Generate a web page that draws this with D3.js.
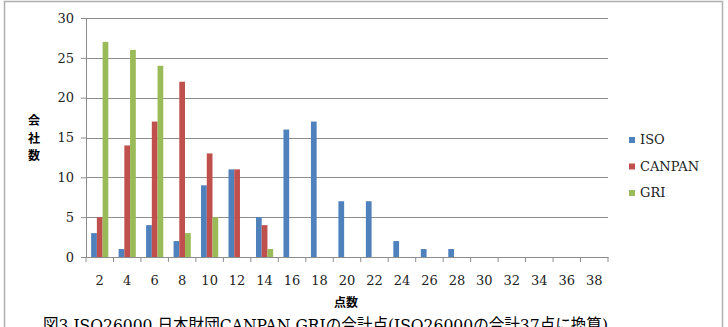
<!DOCTYPE html>
<html>
<head>
<meta charset="utf-8">
<script src="https://cdn.jsdelivr.net/npm/d3@7"></script>
<style>
  body { margin: 0; background: #fff; }
  svg { display: block; }
</style>
</head>
<body>
<script>
// chart data
var categories = ["2","4","6","8","10","12","14","16","18","20","22","24","26","28","30","32","34","36","38"];
var seriesNames = ["ISO", "CANPAN", "GRI"];
var isoValues    = [3, 1, 4, 2, 9, 11, 5, 16, 17, 7, 7, 2, 1, 1, 0, 0, 0, 0, 0];
var canpanValues = [5, 14, 17, 22, 13, 11, 4, 0, 0, 0, 0, 0, 0, 0, 0, 0, 0, 0, 0];
var griValues    = [27, 26, 24, 3, 5, 0, 1, 0, 0, 0, 0, 0, 0, 0, 0, 0, 0, 0, 0];
var yTicks = [0, 5, 10, 15, 20, 25, 30];
var colors = ["#4F81BD", "#C0504D", "#9BBB59"];

var serif = "'DejaVu Serif', 'Liberation Serif', serif";
var jp = "'Noto Sans CJK JP', sans-serif";

var width = 728, height = 327;
var margin = {top: 18, right: 120, bottom: 70, left: 86};

var svg = d3.select("body").append("svg")
    .attr("width", width)
    .attr("height", height);

// outer frame of the chart
svg.append("rect")
    .attr("x", 4.5).attr("y", 1.5)
    .attr("width", 718).attr("height", 340)
    .attr("fill", "none")
    .attr("stroke", "#b0b0b0")
    .attr("stroke-width", 1.5);

var plotW = 608 - margin.left, plotH = 257 - margin.top;

var g = svg.append("g")
    .attr("transform", "translate(" + margin.left + "," + margin.top + ")");

var x = d3.scaleBand().domain(categories).range([0, plotW]).paddingInner(0).paddingOuter(0);
var xSub = d3.scaleBand().domain(seriesNames).range([x.bandwidth() / 2 - 8.6, x.bandwidth() / 2 + 8.6]);
var y = d3.scaleLinear().domain([0, 30]).range([plotH, 0]);

// gridlines
g.selectAll(".grid")
    .data(yTicks.filter(function(d) { return d > 0; }))
    .enter().append("line")
    .attr("x1", 0).attr("x2", plotW)
    .attr("y1", function(d) { return Math.round(y(d)) + 0.5; })
    .attr("y2", function(d) { return Math.round(y(d)) + 0.5; })
    .attr("stroke", "#8c8c8c")
    .attr("stroke-width", 1);

// bars
var table = categories.map(function(c, i) {
    return {cat: c, vals: [isoValues[i], canpanValues[i], griValues[i]]};
});
var groups = g.selectAll(".cat")
    .data(table)
    .enter().append("g")
    .attr("transform", function(d) { return "translate(" + x(d.cat) + ",0)"; });
groups.selectAll("rect")
    .data(function(d) { return d.vals.map(function(v, j) { return {name: seriesNames[j], v: v, j: j}; }); })
    .enter().append("rect")
    .attr("x", function(d) { return xSub(d.name); })
    .attr("width", xSub.bandwidth())
    .attr("y", function(d) { return y(d.v); })
    .attr("height", function(d) { return plotH - y(d.v); })
    .attr("fill", function(d) { return colors[d.j]; });

// y axis
var yAxis = g.append("g")
    .call(d3.axisLeft(y).tickValues(yTicks).tickSize(5).tickPadding(7));
yAxis.select(".domain").attr("stroke", "#8c8c8c");
yAxis.selectAll(".tick line").attr("stroke", "#8c8c8c");
yAxis.selectAll("text")
    .style("font-family", serif)
    .style("font-size", "13px")
    .attr("fill", "#222");

// x axis
var xAxis = g.append("g")
    .attr("transform", "translate(0," + plotH + ")")
    .call(d3.axisBottom(x).tickSize(0).tickPadding(19));
xAxis.select(".domain").attr("stroke", "#8c8c8c");
xAxis.selectAll("text")
    .style("font-family", serif)
    .style("font-size", "13px")
    .attr("fill", "#222");
// category separators
xAxis.selectAll(".sep")
    .data(categories.concat(["end"]))
    .enter().append("line")
    .attr("x1", function(d, i) { return i * x.bandwidth(); })
    .attr("x2", function(d, i) { return i * x.bandwidth(); })
    .attr("y1", 0).attr("y2", 5)
    .attr("stroke", "#8c8c8c");

// axis titles
var yTitle = svg.append("text")
    .style("font-family", jp)
    .style("font-size", "12px")
    .attr("font-weight", "bold")
    .attr("text-anchor", "middle");
["会", "社", "数"].forEach(function(ch, i) {
    yTitle.append("tspan")
        .attr("x", 34)
        .attr("y", 125 + i * 17.5)
        .text(ch);
});

svg.append("text")
    .style("font-family", jp)
    .style("font-size", "12px")
    .attr("x", 346).attr("y", 307)
    .attr("font-weight", "bold")
    .attr("text-anchor", "middle")
    .text("点数");

// legend
var legend = svg.append("g").attr("transform", "translate(629,137)");
seriesNames.forEach(function(name, i) {
    var row = legend.append("g").attr("transform", "translate(0," + i * 26.5 + ")");
    row.append("rect")
        .attr("width", 6).attr("height", 6)
        .attr("y", 0)
        .attr("fill", colors[i]);
    row.append("text")
        .style("font-family", serif)
        .style("font-size", "13px")
        .attr("x", 11).attr("y", 7)
        .attr("fill", "#222")
        .text(name);
});

// caption (cut off by the bottom edge, as in the original)
svg.append("text")
    .attr("x", 43).attr("y", 331)
    .style("font-family", "'DejaVu Serif', 'Noto Sans CJK JP', serif")
    .style("font-size", "17px")
    .attr("textLength", 565)
    .attr("lengthAdjust", "spacingAndGlyphs")
    .text("図3 ISO26000 日本財団CANPAN GRIの合計点(ISO26000の合計37点に換算)");
</script>
</body>
</html>
